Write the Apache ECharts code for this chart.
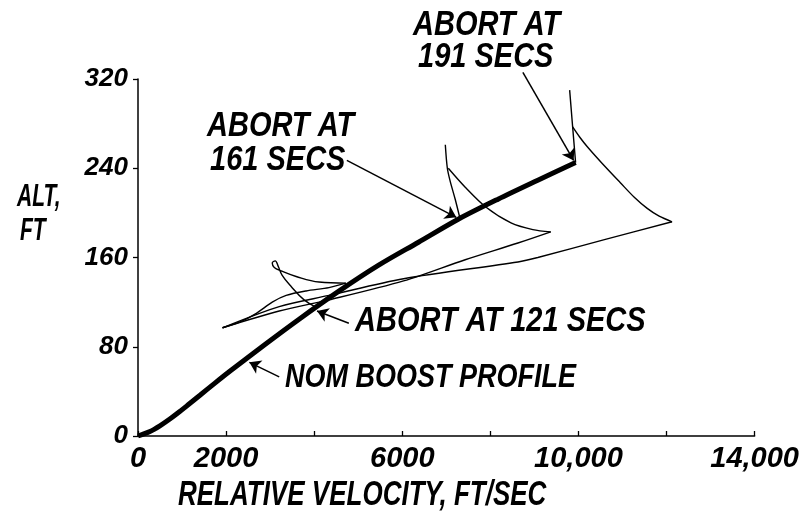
<!DOCTYPE html>
<html>
<head>
<meta charset="utf-8">
<script src="https://cdn.jsdelivr.net/npm/echarts@6/dist/echarts.min.js"></script>
<style>
html,body{margin:0;padding:0;background:#fff;}
#chart{width:802px;height:522px;}
</style>
</head>
<body>
<div id="chart"></div>
<script>
// ---- data ----
const xTickLabels = ['0', '2000', '', '6000', '', '10,000', '', '14,000'];
const yTickLabels = ['0', '80', '160', '240', '320'];

const nomBoost = [[0,0],[271,4.0],[497,9.1],[723,15.2],[948,21.9],[1174,29.1],[1400,36.3],[1739,47.2],[2077,57.8],[2868,81.6],[3658,104.7],[4561,129.8],[5464,153.1],[6368,173.7],[7271,194.3],[8174,212.3],[9077,229.3],[9935,245.2]];

const abort121 = [[4060,115],[3771,122],[3477,134],[3274,144],[3184,152],[3116,157],[3048,155],[3094,151],[3252,148],[3590,143],[4110,138],[4719,137]];
const abort121Return = [[4719,137],[4335,133],[3816,130],[3364,126],[3048,120],[2687,110],[2303,102],[1919,97]];

const abort161Spike = [[7310,195],[7203,212],[7090,228],[7023,240],[6977,261]];
const abort161Descent = [[7045,240],[7429,223],[7903,205],[8468,191],[8964,185],[9371,183]];
const abort161Return = [[9371,183],[8626,173],[7429,158],[6029,139],[4335,122],[3206,112],[1919,97]];

const abort191Spike = [[9935,245],[9868,277],[9800,310]];
const abort191Descent = [[9868,277],[10026,268],[10206,259],[10545,244],[10951,227],[11267,214],[11561,204],[11832,197],[12125,192]];
const abort191Return = [[12125,192],[10590,176],[9077,160],[8626,156],[6029,141],[4335,126],[3206,116],[1919,97]];

const arrows = [
  [[8738,326],[9890,247]],
  [[4742,247],[7226,196]],
  [[4787,101],[4064,112]],
  [[3206,53],[2529,66]]
];

// ---- chart ----
const FONT = '"Liberation Sans", Arial, sans-serif';
const chart = echarts.init(document.getElementById('chart'), null, {renderer: 'canvas'});

function thin(data, smooth) {
  return {
    type: 'line', data: data, showSymbol: false, symbol: 'none',
    smooth: smooth, clip: false,
    lineStyle: {color: '#000', width: 1.4}, z: 3
  };
}

function txt(text, x, y, size, sy) {
  return {
    type: 'text', x: x, y: y, scaleY: sy,
    style: {text: text, font: 'italic bold ' + size + 'px ' + FONT, fill: '#000',
            textAlign: 'left', textVerticalAlign: 'middle'}
  };
}

chart.setOption({
  animation: false,
  backgroundColor: '#fff',
  grid: {left: 138, right: 44, top: 79, bottom: 86, containLabel: false},
  xAxis: {
    type: 'value', min: 0, max: 14000, interval: 2000,
    splitLine: {show: false},
    axisLine: {lineStyle: {color: '#000', width: 1.5}},
    axisTick: {inside: true, length: 5, lineStyle: {color: '#000', width: 1.3}},
    axisLabel: {
      margin: 8, color: '#000', fontSize: 29, fontStyle: 'italic', fontWeight: 'bold', fontFamily: FONT,
      formatter: v => xTickLabels[Math.round(v / 2000)]
    }
  },
  yAxis: {
    type: 'value', min: 0, max: 320, interval: 80,
    splitLine: {show: false},
    axisLine: {lineStyle: {color: '#000', width: 1.5}},
    axisTick: {length: 5, lineStyle: {color: '#000', width: 1.3}},
    axisLabel: {
      margin: 10, color: '#000', fontSize: 26, fontStyle: 'italic', fontWeight: 'bold', fontFamily: FONT,
      formatter: v => yTickLabels[Math.round(v / 80)]
    }
  },
  series: [
    {
      type: 'line', data: nomBoost, showSymbol: false, symbol: 'none', smooth: 0.3,
      lineStyle: {color: '#000', width: 5}, z: 4
    },
    thin(abort121, 0.4),
    thin(abort121Return, 0.3),
    thin(abort161Spike, 0.3),
    thin(abort161Descent, 0.3),
    thin(abort161Return, 0.3),
    thin(abort191Spike, 0),
    thin(abort191Descent, 0.3),
    thin(abort191Return, 0.3),
    {
      type: 'lines', coordinateSystem: 'cartesian2d', clip: false,
      symbol: ['none', 'arrow'], symbolSize: 11,
      lineStyle: {color: '#000', width: 1.5, opacity: 1},
      data: arrows.map(a => ({coords: a})), z: 5
    }
  ],
  graphic: [
    txt('ABORT AT', 413, 25, 29, 1.2),
    txt('191 SECS', 418, 57, 29, 1.2),
    txt('ABORT AT', 207, 126, 29, 1.2),
    txt('161 SECS', 210, 160, 29, 1.2),
    txt('ABORT AT 121 SECS', 355, 321, 29, 1.2),
    txt('NOM BOOST PROFILE', 285, 378, 27, 1.25),
    txt('ALT,', 17, 197, 21, 1.5),
    txt('FT', 20, 231, 21, 1.5),
    txt('RELATIVE VELOCITY, FT/SEC', 178, 495, 26, 1.35)
  ]
});
</script>
</body>
</html>
